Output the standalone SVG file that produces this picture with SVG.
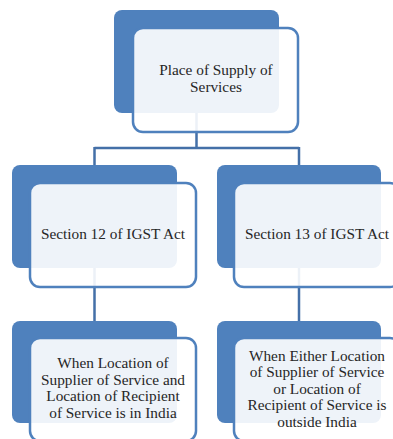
<svg xmlns="http://www.w3.org/2000/svg" width="393" height="439" viewBox="0 0 393 439">
<style>
.back{fill:#4F81BD;}
.front{fill:#FFFFFF;fill-opacity:0.9;stroke:#4F81BD;stroke-width:2.5;}
.conn{fill:none;stroke:#4470A8;stroke-width:2.5;}
.lbl{font-family:"Liberation Serif",serif;font-size:15.3px;fill:#262626;text-anchor:middle;}
</style>
<rect width="393" height="439" fill="#FFFFFF"/>
<g id="connectors">
<path class="conn" d="M196.5,113 V148 M94.5,148 H299 M94.5,147 V165 M299,147 V165 M94.5,268 V321 M299,268 V321"/>
</g>
<g id="node-root">
<rect class="back" x="114" y="10" width="165" height="103" rx="8"/>
<rect class="front" x="133" y="28" width="165" height="104" rx="10"/>
<text class="lbl" x="216" y="75">Place of Supply of</text>
<text class="lbl" x="216" y="92">Services</text>
</g>
<g id="node-sec12">
<rect class="back" x="12" y="165" width="165" height="103" rx="8"/>
<rect class="front" x="30" y="183" width="166" height="104" rx="10"/>
<text class="lbl" x="113" y="239">Section 12 of IGST Act</text>
</g>
<g id="node-sec13">
<rect class="back" x="217" y="165" width="164" height="103" rx="8"/>
<rect class="front" x="234" y="183" width="166" height="104" rx="10"/>
<text class="lbl" x="317" y="239">Section 13 of IGST Act</text>
</g>
<g id="node-india">
<rect class="back" x="12" y="321" width="165" height="102" rx="8"/>
<rect class="front" x="30" y="338" width="166" height="103" rx="10"/>
<text class="lbl" x="113" y="368">When Location of</text>
<text class="lbl" x="113" y="384.5">Supplier of Service and</text>
<text class="lbl" x="113" y="401">Location of Recipient</text>
<text class="lbl" x="113" y="417.5">of Service is in India</text>
</g>
<g id="node-outside">
<rect class="back" x="217" y="321" width="164" height="102" rx="8"/>
<rect class="front" x="234" y="338" width="166" height="103" rx="10"/>
<text class="lbl" x="317" y="360.5">When Either Location</text>
<text class="lbl" x="317" y="377">of Supplier of Service</text>
<text class="lbl" x="317" y="393.5">or Location of</text>
<text class="lbl" x="317" y="410">Recipient of Service is</text>
<text class="lbl" x="317" y="426.5">outside India</text>
</g>
</svg>
